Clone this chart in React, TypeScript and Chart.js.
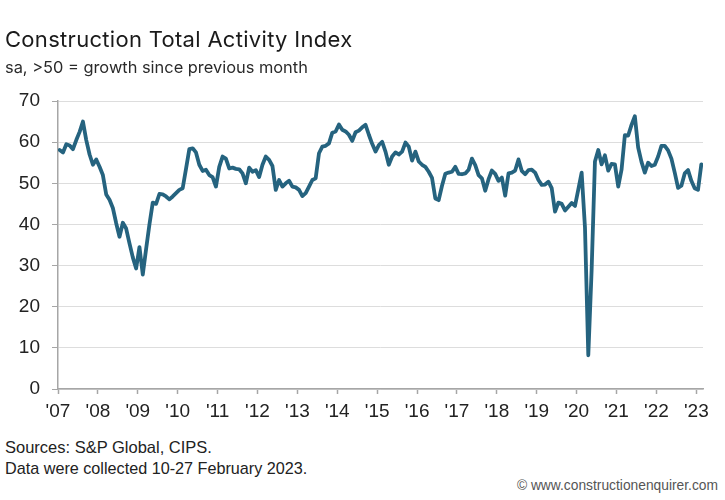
import React, { useEffect, useRef } from "react";
import { Chart, registerables } from "chart.js";

Chart.register(...registerables);

// Year tick labels (Jan of each year)
const yearLabels = ["'07", "'08", "'09", "'10", "'11", "'12", "'13", "'14", "'15", "'16", "'17", "'18", "'19", "'20", "'21", "'22", "'23"];

// Monthly index values, Jan..Dec per year
const v2007 = [58.1, 57.5, 59.5, 59.2, 58.3, 60.5, 62.5, 65.0, 60.5, 57.0, 54.5, 55.8];
const v2008 = [54.0, 52.0, 47.3, 46.0, 44.0, 40.3, 37.0, 40.4, 39.0, 35.4, 32.0, 29.3];
const v2009 = [34.5, 27.8, 34.0, 40.0, 45.3, 45.0, 47.4, 47.3, 46.8, 46.1, 46.8, 47.6];
const v2010 = [48.4, 48.8, 53.5, 58.3, 58.5, 57.5, 54.5, 53.0, 53.3, 52.0, 51.5, 49.2];
const v2011 = [54.0, 56.5, 56.0, 53.6, 53.8, 53.5, 53.4, 52.4, 50.0, 53.8, 52.8, 53.2];
const v2012 = [51.5, 54.5, 56.5, 55.7, 54.2, 48.4, 50.8, 49.2, 50.0, 50.6, 49.2, 49.0];
const v2013 = [48.4, 46.9, 47.6, 49.2, 50.8, 51.2, 57.3, 58.9, 59.1, 59.7, 62.3, 62.6];
const v2014 = [64.3, 63.0, 62.6, 61.8, 60.3, 62.4, 62.8, 63.6, 64.2, 61.8, 59.6, 57.7];
const v2015 = [59.3, 60.1, 57.7, 54.5, 56.5, 57.5, 57.0, 57.7, 59.9, 58.9, 55.5, 57.7];
const v2016 = [55.3, 54.5, 54.0, 52.8, 51.3, 46.3, 45.9, 49.4, 52.3, 52.6, 52.8, 54.0];
const v2017 = [52.3, 52.2, 52.4, 53.3, 56.0, 54.4, 52.0, 51.2, 48.2, 51.0, 53.1, 52.3];
const v2018 = [50.6, 51.4, 47.0, 52.4, 52.6, 53.1, 55.8, 53.0, 52.2, 53.2, 53.3, 52.6];
const v2019 = [50.8, 49.6, 49.7, 50.4, 48.8, 43.1, 45.3, 45.0, 43.4, 44.3, 45.2, 44.5];
const v2020 = [48.5, 52.6, 39.3, 8.2, 28.9, 55.3, 58.1, 54.6, 56.8, 53.1, 54.7, 54.6];
const v2021 = [49.2, 53.3, 61.7, 61.6, 64.2, 66.3, 58.7, 55.2, 52.6, 55.0, 54.2, 54.5];
const v2022 = [56.5, 59.1, 59.1, 58.0, 56.0, 52.6, 48.9, 49.4, 52.4, 53.2, 50.6, 48.8];
const v2023 = [48.4, 54.6];

const activityIndex = [
  ...v2007, ...v2008, ...v2009, ...v2010, ...v2011, ...v2012, ...v2013, ...v2014,
  ...v2015, ...v2016, ...v2017, ...v2018, ...v2019, ...v2020, ...v2021, ...v2022, ...v2023,
];

const MONTHS_PER_YEAR = 12;

export default function App() {
  const canvasRef = useRef<HTMLCanvasElement>(null);

  useEffect(() => {
    const canvas = canvasRef.current;
    if (!canvas) return;
    const axisGray = "#a6a6a6";
    const labelFont = { family: "'Liberation Sans', Arial, sans-serif", size: 19 };
    const chart = new Chart(canvas, {
      type: "line",
      data: {
        datasets: [
          {
            data: activityIndex.map((v, i) => ({ x: i, y: v })),
            borderColor: "#25637f",
            borderWidth: 3.8,
            pointRadius: 0,
            tension: 0,
            borderJoinStyle: "round",
            borderCapStyle: "round",
            fill: false,
          },
        ],
      },
      options: {
        animation: false,
        responsive: false,
        layout: { padding: { top: 101, right: 22, bottom: 0, left: 0 } },
        plugins: { legend: { display: false }, tooltip: { enabled: false }, title: { display: false } },
        scales: {
          x: {
            type: "linear",
            min: -0.5,
            max: activityIndex.length - 0.5,
            afterBuildTicks: (scale: any) => {
              scale.ticks = yearLabels.map((_, k) => ({ value: -0.5 + MONTHS_PER_YEAR * k }));
            },
            afterFit: (scale: any) => {
              scale.height = 41;
            },
            ticks: {
              autoSkip: false,
              maxRotation: 0,
              minRotation: 0,
              padding: 6,
              color: "#222222",
              font: labelFont,
              callback: (_v: any, idx: number) => yearLabels[idx],
            },
            grid: {
              drawOnChartArea: false,
              drawTicks: true,
              tickLength: 5,
              tickColor: axisGray,
              tickWidth: 1.5,
            },
            border: { color: axisGray, width: 1.5 },
          },
          y: {
            min: 0,
            max: 70,
            afterFit: (scale: any) => {
              scale.width = 58;
            },
            ticks: { stepSize: 10, padding: 12, color: "#222222", font: labelFont },
            grid: { color: "#dddddd", lineWidth: 1, tickLength: 6, tickColor: axisGray },
            border: { color: axisGray, width: 1.5 },
          },
        },
      },
    });
    return () => chart.destroy();
  }, []);

  return (
    <div
      style={{
        position: "fixed",
        left: 0,
        top: 0,
        width: 725,
        height: 500,
        background: "#ffffff",
        overflow: "hidden",
      }}
    >
      <canvas
        ref={canvasRef}
        width={725}
        height={430}
        style={{ position: "absolute", left: 0, top: 0, width: 725, height: 430 }}
      />
      <div
        style={{
          position: "absolute",
          left: 5,
          top: 27.5,
          fontFamily: "Inter, 'Liberation Sans', sans-serif",
          fontSize: 22,
          letterSpacing: 0.3,
          lineHeight: 1,
          color: "#1a1a1a",
          whiteSpace: "nowrap",
        }}
      >
        Construction Total Activity Index
      </div>
      <div
        style={{
          position: "absolute",
          left: 5,
          top: 58.5,
          fontFamily: "Inter, 'Liberation Sans', sans-serif",
          fontSize: 16.4,
          lineHeight: 1,
          color: "#2a2a2a",
          whiteSpace: "nowrap",
        }}
      >
        sa, &gt;50 = growth since previous month
      </div>
      <div
        style={{
          position: "absolute",
          left: 5,
          top: 439,
          fontFamily: "'Liberation Sans', Arial, sans-serif",
          fontSize: 16.5,
          lineHeight: 1,
          color: "#222222",
          whiteSpace: "nowrap",
        }}
      >
        Sources: S&amp;P Global, CIPS.
      </div>
      <div
        style={{
          position: "absolute",
          left: 5,
          top: 460,
          fontFamily: "'Liberation Sans', Arial, sans-serif",
          fontSize: 16.2,
          lineHeight: 1,
          color: "#222222",
          whiteSpace: "nowrap",
        }}
      >
        Data were collected 10-27 February 2023.
      </div>
      <div
        style={{
          position: "absolute",
          right: 7,
          top: 479,
          fontFamily: "'Liberation Sans', Arial, sans-serif",
          fontSize: 13.8,
          lineHeight: 1,
          color: "#555555",
          whiteSpace: "nowrap",
        }}
      >
        © www.constructionenquirer.com
      </div>
    </div>
  );
}
